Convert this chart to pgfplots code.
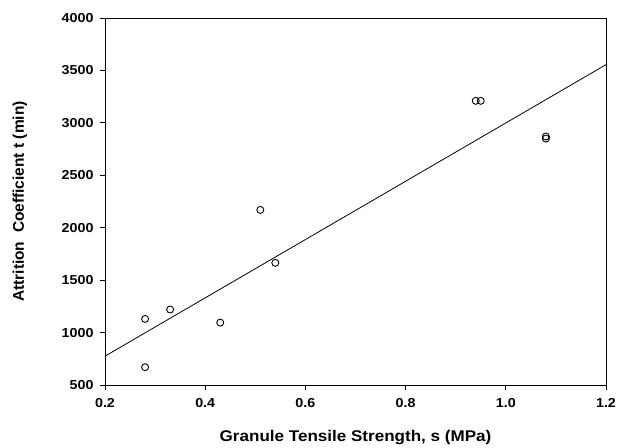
\documentclass[border=0pt]{standalone}
\usepackage{fontspec}
\setmainfont{Liberation Sans}
\newfontfamily\widefont[FakeStretch=1.1]{Liberation Sans}
\usepackage{pgfplots}
\pgfplotsset{compat=1.18}
\begin{document}
\begin{tikzpicture}
\useasboundingbox (-105bp,-63bp) rectangle (513bp,385bp);
\begin{axis}[
  scale only axis,
  width=501bp, height=367bp,
  xmin=0.2, xmax=1.2, ymin=500, ymax=4000,
  xtick={0.2,0.4,0.6,0.8,1.0,1.2},
  ytick={500,1000,1500,2000,2500,3000,3500,4000},
  tick align=outside, tick pos=left,
  major tick length=5bp,
  axis line style={line width=0.8bp},
  tick style={line width=0.8bp, black},
  /pgf/number format/assume math mode=true,
  xticklabel style={/pgf/number format/fixed, /pgf/number format/fixed zerofill, /pgf/number format/precision=1, font=\fontsize{13bp}{15bp}\widefont\bfseries, yshift=-5bp},
  yticklabel style={/pgf/number format/1000 sep={}, font=\fontsize{13bp}{15bp}\widefont\bfseries, xshift=-3bp},
  xlabel={Granule Tensile Strength, s (MPa)},
  ylabel={Attrition\ \ Coefficient t (min)},
  xlabel style={at={(axis description cs:0.5,-0.1444)}, anchor=center, font=\fontsize{15.5bp}{17bp}\widefont\bfseries},
  ylabel style={at={(axis description cs:-0.1697,0.5)}, anchor=center, rotate=0, font=\fontsize{15.5bp}{17bp}\selectfont\bfseries},
]
\addplot[only marks, mark=o, mark size=3.5bp, mark options={line width=0.9bp, black}] coordinates {
(0.28,1130) (0.28,670) (0.33,1220) (0.43,1095) (0.51,2170) (0.54,1665)
(0.94,3210) (0.95,3210) (1.08,2870) (1.08,2850)
};
\addplot[black, line width=0.8bp] coordinates {(0.2,775) (1.2,3555)};
\end{axis}
\end{tikzpicture}
\end{document}
